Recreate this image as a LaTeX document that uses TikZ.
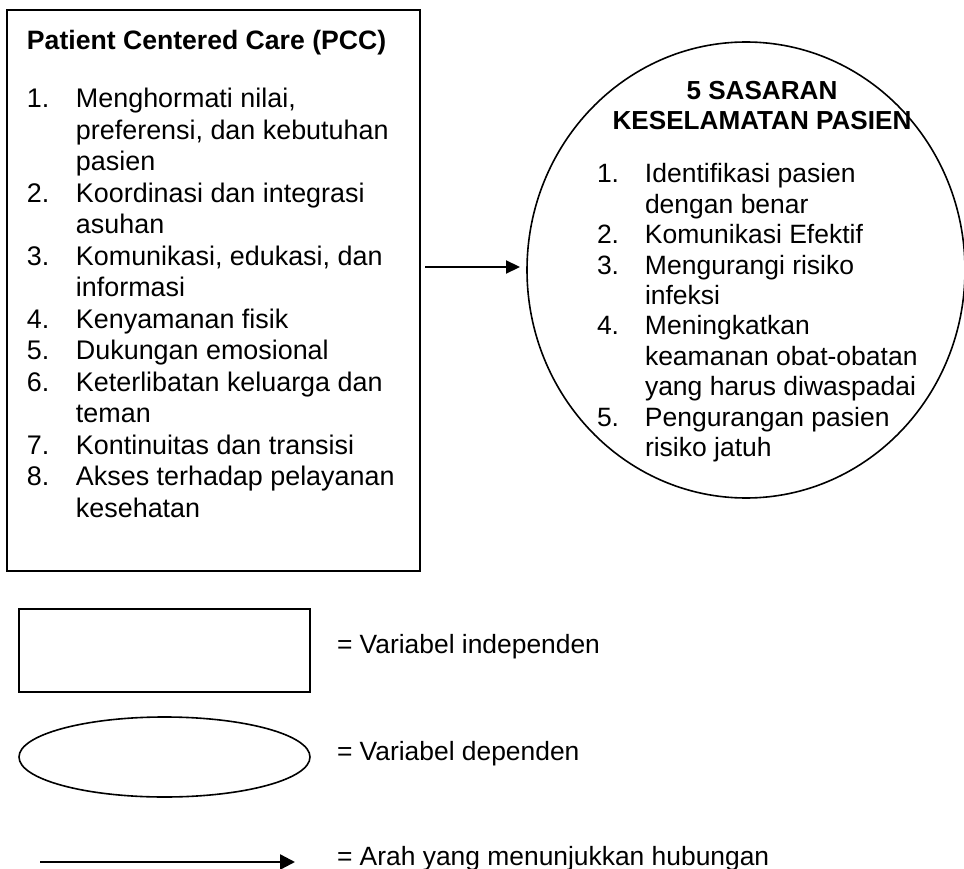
\documentclass[tikz,border=0pt]{standalone}
\usepackage{fontspec}
\setmainfont{Liberation Sans}
\usetikzlibrary{arrows.meta,shapes.geometric}
\newlength{\numw}
\newcommand{\numitem}[2]{\noindent\hangindent=\numw\hangafter=1\makebox[\numw][l]{#1}#2\par}
\begin{document}
\begin{tikzpicture}[x=1pt,y=-1pt,
  every node/.style={inner sep=0pt,outer sep=0pt,text=black},
  frame/.style={draw=black,line width=1.4pt,rectangle,anchor=north west},
  oval/.style={draw=black,line width=1.6pt,ellipse},
  conn/.style={line width=2.2pt,-{Triangle[length=14pt,width=13pt]}},
  legconn/.style={line width=2.4pt,-{Triangle[length=15pt,width=15pt]}},
  lefttxt/.style={font=\fontsize{26.9}{31.5}\selectfont,anchor=base west},
  circtxt/.style={font=\fontsize{26.5}{30.4}\selectfont,anchor=base west},
  circhead/.style={font=\fontsize{26.1}{30}\selectfont\bfseries,anchor=base},
  legtxt/.style={font=\fontsize{26.4}{31}\selectfont,anchor=base west}]
\useasboundingbox (0,0) rectangle (964,869);
\clip (0,0) rectangle (964,869);
\fill[white] (0,0) rectangle (964,869);

% left box
\node[frame,minimum width=413pt,minimum height=561pt] (pcc) at (7,10) {};
\node[lefttxt,font=\fontsize{26.6}{31.5}\selectfont\bfseries] (pcctitle) at (27,50) {Patient Centered Care (PCC)};
\node[lefttxt] (pcclist) at (27,108) {\begin{minipage}[t]{420pt}\setlength{\numw}{49pt}%
\numitem{1.}{Menghormati nilai,\newline preferensi, dan kebutuhan\newline pasien}%
\numitem{2.}{Koordinasi dan integrasi\newline asuhan}%
\numitem{3.}{Komunikasi, edukasi, dan\newline informasi}%
\numitem{4.}{Kenyamanan fisik}%
\numitem{5.}{Dukungan emosional}%
\numitem{6.}{Keterlibatan keluarga dan\newline teman}%
\numitem{7.}{Kontinuitas dan transisi}%
\numitem{8.}{Akses terhadap pelayanan\newline kesehatan}%
\end{minipage}};

% circle
\node[oval,minimum width=438pt,minimum height=456pt] (circ) at (746,270) {};
\node[circhead] (ctitle1) at (762,100) {5 SASARAN};
\node[circhead] (ctitle2) at (762,130) {KESELAMATAN PASIEN};
\node[circtxt] (clist) at (597,183) {\begin{minipage}[t]{380pt}\setlength{\numw}{48pt}%
\numitem{1.}{Identifikasi pasien\newline dengan benar}%
\numitem{2.}{Komunikasi Efektif}%
\numitem{3.}{Mengurangi risiko\newline infeksi}%
\numitem{4.}{Meningkatkan\newline keamanan obat-obatan\newline yang harus diwaspadai}%
\numitem{5.}{Pengurangan pasien\newline risiko jatuh}%
\end{minipage}};

% connector
\draw[conn] ([shift={(5,-23.5)}]pcc.east) -- ([shift={(-7,-3)}]circ.west);

% legend
\node[frame,minimum width=291pt,minimum height=83pt] (legbox) at (19,609) {};
\node[legtxt] (legboxtxt) at (337,653) {= Variabel independen};
\node[oval,minimum width=291pt,minimum height=80pt] (legoval) at (164.5,757) {};
\node[legtxt] (legovaltxt) at (337,760) {= Variabel dependen};
\coordinate (la1) at (40,862);
\coordinate (la2) at (295,862);
\draw[legconn] (la1) -- (la2);
\node[legtxt] (legarrtxt) at (337,865) {= Arah yang menunjukkan hubungan};
\end{tikzpicture}
\end{document}
